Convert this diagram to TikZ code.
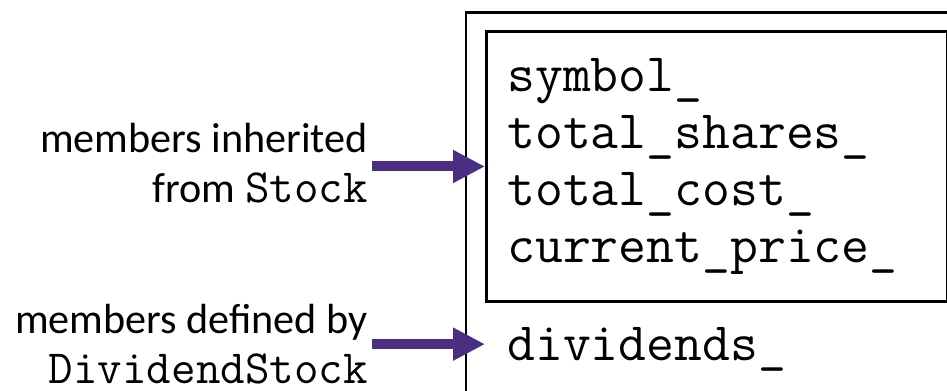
\documentclass[tikz,border=0pt]{standalone}
\usepackage{fontspec}
\setmainfont{Carlito}
\usepackage{xcolor}
\usetikzlibrary{arrows.meta}
\definecolor{huskypurple}{RGB}{75,46,131}

\begin{document}
\begin{tikzpicture}[x=0.02cm, y=-0.02cm,
    member/.style={font=\fontsize{30.8}{32.3}\selectfont\ttfamily, align=left, inner sep=0pt},
    note/.style={font=\fontsize{24}{27.9}\selectfont, align=right, inner sep=0pt},
    arr/.style={draw=huskypurple, line width=5.7pt, -{Triangle[length=18.2pt, width=17.6pt]}}]
\useasboundingbox (0,0) rectangle (947,390);
\clip (0,0) rectangle (947,390);
% object of the derived class
\draw[line width=1.7pt] (466,12) rectangle (990,430);
\node[draw, line width=1.7pt, anchor=north west, inner sep=0pt, minimum width=9.22cm, minimum height=5.4cm] (base) at (485,30) {};
\node[member, anchor=base west] (inherited) at (507,262) {symbol\_\\total\_shares\_\\total\_cost\_\\current\_price\_};
\node[member, anchor=base west] (own) at (507,360) {dividends\_};
% labels on the left
\node[note, anchor=base east] (fromstock) at (368,202) {members inherited\\from {\fontsize{27.1}{27.9}\selectfont\ttfamily Stock}};
\node[note, anchor=base east] (fromdiv) at (368,383) {members defined by\\{\fontsize{27.1}{27.9}\selectfont\ttfamily DividendStock}};
\draw[arr] ([xshift=2pt]fromstock.east |- base.west) -- (base.west);
\draw[arr] ([xshift=2pt]fromdiv.east) -- (fromdiv.east -| base.west);
\end{tikzpicture}
\end{document}
